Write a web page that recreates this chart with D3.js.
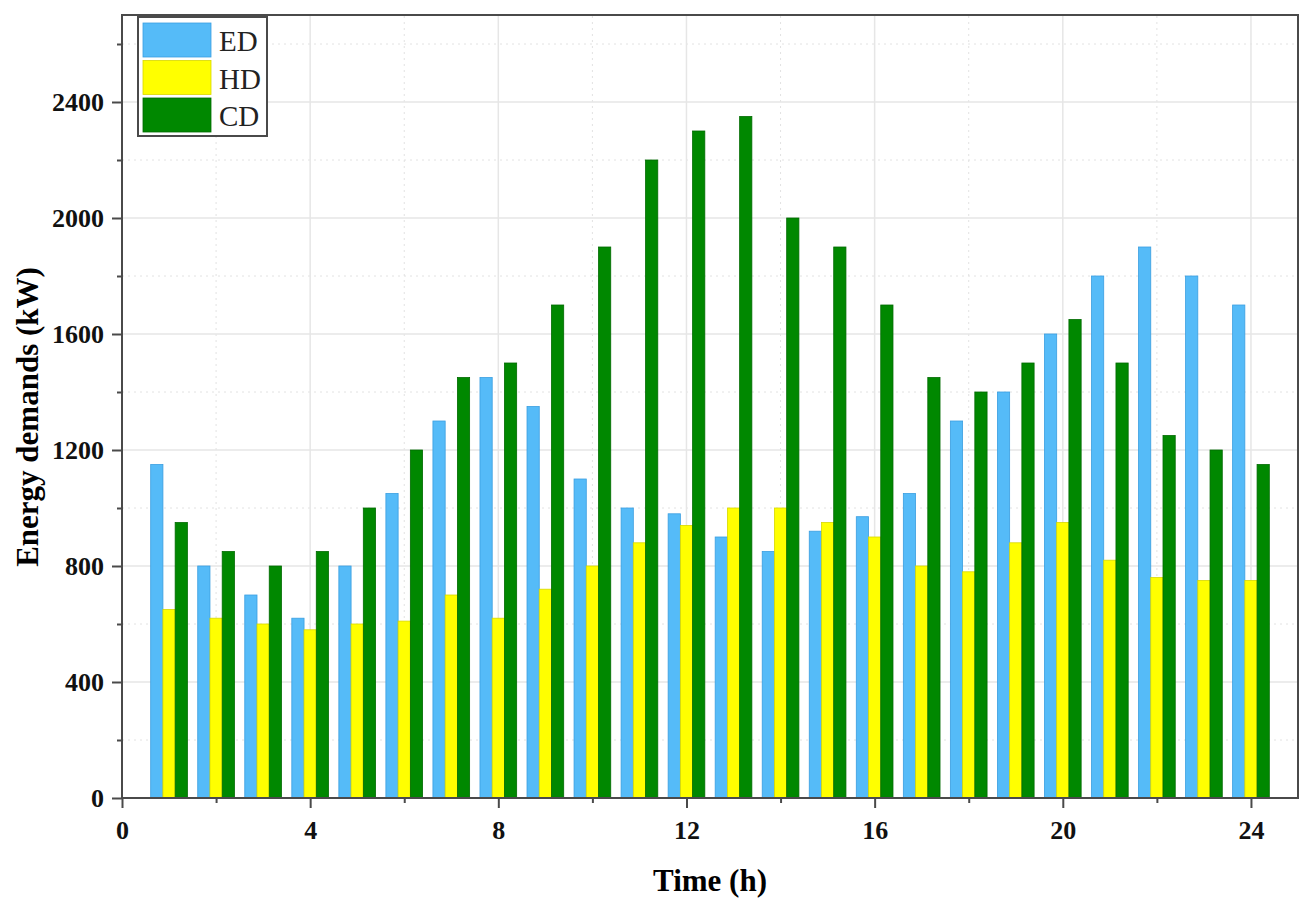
<!DOCTYPE html>
<html lang="en">
<head>
    <meta charset="UTF-8">
    <title>Energy demands</title>
    <script src="https://d3js.org/d3.v7.min.js"></script>
    <style>
        body { margin: 0; background: #fff; }
        text { font-family: 'Liberation Serif', 'Times New Roman', serif; }
    </style>
</head>
<body>
<script>
    const width  = 1314;
    const height = 908;
    const margin = {top: 15, right: 16, bottom: 110, left: 122};

    const hours = d3.range(1, 25);
    const ED = [1150, 800, 700, 620, 800, 1050, 1300, 1450, 1350, 1100, 1000, 980,
                900, 850, 920, 970, 1050, 1300, 1400, 1600, 1800, 1900, 1800, 1700];
    const HD = [650, 620, 600, 580, 600, 610, 700, 620, 720, 800, 880, 940,
                1000, 1000, 950, 900, 800, 780, 880, 950, 820, 760, 750, 750];
    const CD = [950, 850, 800, 850, 1000, 1200, 1450, 1500, 1700, 1900, 2200, 2300,
                2350, 2000, 1900, 1700, 1450, 1400, 1500, 1650, 1500, 1250, 1200, 1150];

    const seriesNames = ['ED', 'HD', 'CD'];
    const seriesValues = [ED, HD, CD];
    const colors = ['#55bbf8', '#ffff00', '#008800'];
    const strokes = ['#3a9ee0', '#d8d800', '#006a00'];

    const xTicks = [0, 4, 8, 12, 16, 20, 24];
    const yTicks = [0, 400, 800, 1200, 1600, 2000, 2400];

    const x = d3.scaleLinear().domain([0, 25]).range([margin.left, width - margin.right]);
    const y = d3.scaleLinear().domain([0, 2700]).range([height - margin.bottom, margin.top]);

    const barW = 0.26; // in hours

    const svg = d3.select("body").append("svg").attr("width", width).attr("height", height);

    // grid: minor dotted, major solid
    const grid = svg.append("g");
    d3.range(2, 25, 4).forEach(v => {
        grid.append("line").attr("x1", x(v)).attr("x2", x(v))
            .attr("y1", y(0)).attr("y2", y(2700))
            .attr("stroke", "#e2e2e2").attr("stroke-dasharray", "2,4");
    });
    d3.range(200, 2700, 400).forEach(v => {
        grid.append("line").attr("x1", x(0)).attr("x2", x(25))
            .attr("y1", y(v)).attr("y2", y(v))
            .attr("stroke", "#e2e2e2").attr("stroke-dasharray", "2,4");
    });
    xTicks.slice(1).forEach(v => {
        grid.append("line").attr("x1", x(v)).attr("x2", x(v))
            .attr("y1", y(0)).attr("y2", y(2700))
            .attr("stroke", "#e6e6e6").attr("stroke-width", 1.5);
    });
    yTicks.slice(1).forEach(v => {
        grid.append("line").attr("x1", x(0)).attr("x2", x(25))
            .attr("y1", y(v)).attr("y2", y(v))
            .attr("stroke", "#e6e6e6").attr("stroke-width", 1.5);
    });

    // bars
    seriesValues.forEach((vals, s) => {
        svg.append("g").selectAll("rect")
            .data(vals)
            .enter().append("rect")
            .attr("x", (d, i) => x(hours[i] + (s - 1.5) * barW))
            .attr("width", x(barW) - x(0))
            .attr("y", d => y(d))
            .attr("height", d => y(0) - y(d))
            .attr("fill", colors[s])
            .attr("stroke", strokes[s])
            .attr("stroke-width", 0.8);
    });

    // frame
    svg.append("rect")
        .attr("x", x(0)).attr("y", y(2700))
        .attr("width", x(25) - x(0)).attr("height", y(0) - y(2700))
        .attr("fill", "none").attr("stroke", "#4a4a4a").attr("stroke-width", 2);

    // axes
    svg.append("g")
        .attr("transform", "translate(0," + y(0) + ")")
        .call(d3.axisBottom(x).tickValues(xTicks).tickSize(10).tickPadding(13).tickFormat(d3.format("d")));
    svg.append("g")
        .attr("transform", "translate(0," + y(0) + ")")
        .call(d3.axisBottom(x).tickValues(d3.range(2, 25, 4)).tickSize(5).tickFormat(""));
    svg.append("g")
        .attr("transform", "translate(" + x(0) + ",0)")
        .call(d3.axisLeft(y).tickValues(yTicks).tickSize(10).tickPadding(8).tickFormat(d3.format("d")));
    svg.append("g")
        .attr("transform", "translate(" + x(0) + ",0)")
        .call(d3.axisLeft(y).tickValues(d3.range(200, 2700, 400)).tickSize(5).tickFormat(""));

    svg.selectAll(".domain").remove();
    svg.selectAll(".tick line").attr("stroke", "#4a4a4a").attr("stroke-width", 2);
    svg.selectAll(".tick text")
        .attr("font-family", "'Liberation Serif', serif")
        .attr("font-weight", "bold")
        .attr("font-size", 26)
        .attr("fill", "#111");

    // axis titles
    svg.append("text")
        .attr("x", (x(0) + x(25)) / 2)
        .attr("y", 891)
        .attr("text-anchor", "middle")
        .attr("font-weight", "bold")
        .attr("font-size", 31)
        .text("Time (h)");

    svg.append("text")
        .attr("transform", "translate(38,417) rotate(-90)")
        .attr("text-anchor", "middle")
        .attr("font-weight", "bold")
        .attr("font-size", 31)
        .text("Energy demands (kW)");

    // legend
    const lg = svg.append("g");
    lg.append("rect")
        .attr("x", 138).attr("y", 17).attr("width", 129).attr("height", 119)
        .attr("fill", "#fff").attr("stroke", "#4a4a4a").attr("stroke-width", 2);
    seriesNames.forEach((name, i) => {
        lg.append("rect")
            .attr("x", 143).attr("y", 23 + i * 37.5)
            .attr("width", 68).attr("height", 34)
            .attr("fill", colors[i]).attr("stroke", strokes[i]).attr("stroke-width", 0.8);
        lg.append("text")
            .attr("x", 219).attr("y", 23 + i * 37.5 + 28)
            .attr("font-size", 29)
            .attr("fill", "#222")
            .text(name);
    });
</script>
</body>
</html>
